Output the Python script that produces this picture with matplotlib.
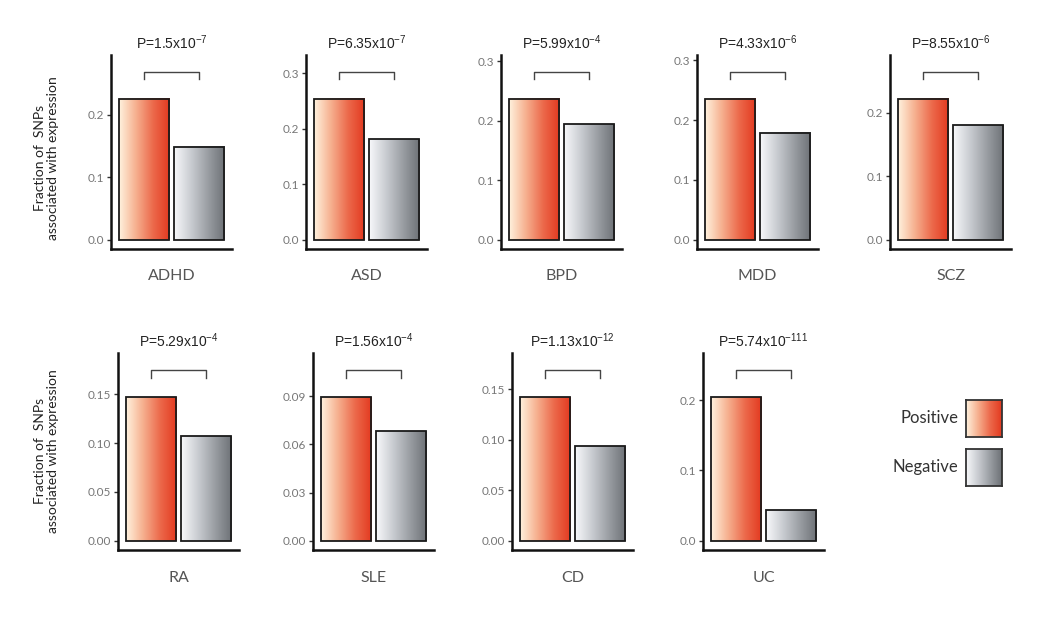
import matplotlib
matplotlib.use("Agg")
import matplotlib.pyplot as plt
import numpy as np
from matplotlib.colors import LinearSegmentedColormap

plt.rcParams['font.family'] = ['Lato', 'DejaVu Sans']
plt.rcParams['mathtext.fontset'] = 'custom'
plt.rcParams['mathtext.rm'] = 'Liberation Sans'
plt.rcParams['mathtext.it'] = 'Liberation Sans'
plt.rcParams['mathtext.default'] = 'regular'

diseases = ["ADHD", "ASD", "BPD", "MDD", "SCZ", "RA", "SLE", "CD", "UC"]
positive = [0.226, 0.254, 0.237, 0.236, 0.222, 0.147, 0.0894, 0.142, 0.204]
negative = [0.149, 0.181, 0.194, 0.179, 0.180, 0.107, 0.0685, 0.094, 0.043]
p_mantissa = ["1.5", "6.35", "5.99", "4.33", "8.55", "5.29", "1.56", "1.13", "5.74"]
p_exponent = [-7, -7, -4, -6, -6, -4, -4, -12, -111]
tick_step = [0.1, 0.1, 0.1, 0.1, 0.1, 0.05, 0.03, 0.05, 0.1]
tick_fmt = ["%.1f"] * 5 + ["%.2f", "%.2f", "%.2f", "%.1f"]
groups = ["Positive", "Negative"]

W, H = 1048, 618
fig = plt.figure(figsize=(W / 100, H / 100), dpi=100)

pos_cmap = LinearSegmentedColormap.from_list("pos", ["#fff2de", "#f6b08f", "#ec6a4c", "#e3391f"])
neg_cmap = LinearSegmentedColormap.from_list("neg", ["#f8f9fb", "#c9ccd1", "#9a9ea3", "#6d7176"])
grad = np.linspace(0, 1, 256).reshape(1, -1)

lefts = [111, 306, 501, 697, 890, 118, 313, 512, 703]
tops = [55] * 5 + [353] * 4
bottoms = [249] * 5 + [550] * 4
ax_w = 121


def px_rect(left, top, bottom, width):
    return [left / W, 1 - bottom / H, width / W, (bottom - top) / H]


for i, name in enumerate(diseases):
    ax = fig.add_axes(px_rect(lefts[i], tops[i], bottoms[i], ax_w))
    vals = [positive[i], negative[i]]
    bars = ax.bar([0, 1], vals, width=0.92, facecolor="none", edgecolor="#1a1a1a",
                  linewidth=1.3, zorder=3)
    for b, cm in zip(bars, [pos_cmap, neg_cmap]):
        x0, w, h = b.get_x(), b.get_width(), b.get_height()
        ax.imshow(grad, extent=[x0, x0 + w, 0, h], aspect="auto", cmap=cm,
                  zorder=2, interpolation="bicubic")
    B = max(vals) * 1.19
    tick_h = 0.045 * B
    ax.plot([0, 0, 1, 1], [B - tick_h, B, B, B - tick_h], color="#444444", lw=1.0,
            clip_on=False, zorder=3)
    ax.set_xlim(-0.61, 1.61)
    top = 1.1 * B
    ax.set_ylim(-0.055 * B, top)
    ax.text(0.5, B + 0.12 * B,
            "P=%sx10$^{%d}$" % (p_mantissa[i], p_exponent[i]),
            ha="center", va="bottom", fontsize=10, color="#222222",
            family="Liberation Sans", clip_on=False)
    step = tick_step[i]
    ticks = np.arange(0, top + 1e-9, step)
    ax.set_yticks(ticks)
    ax.set_yticklabels([tick_fmt[i] % t for t in ticks])
    ax.set_xticks([])
    for s in ["top", "right"]:
        ax.spines[s].set_visible(False)
    for s in ["left", "bottom"]:
        ax.spines[s].set_linewidth(1.8)
        ax.spines[s].set_color("#111111")
    ax.tick_params(axis="y", length=3, width=1, color="#333333", labelcolor="#777777",
                   labelsize=8.5, pad=2)
    ax.patch.set_alpha(0)
    ax.text(0.5, -0.14, name, transform=ax.transAxes, ha="center", va="center",
            fontsize=11.5, color="#555555")

ylab = "Fraction of  SNPs\nassociated with expression"
fig.text(47 / W, 1 - 158 / H, ylab, rotation=90, ha="center", va="center",
         fontsize=10, color="#222222", linespacing=1.1)
fig.text(47 / W, 1 - 451 / H, ylab, rotation=90, ha="center", va="center",
         fontsize=10, color="#222222", linespacing=1.1)

# legend
for j, (g, cm) in enumerate(zip(groups, [pos_cmap, neg_cmap])):
    top_px = 400 + j * 49
    lax = fig.add_axes(px_rect(966, top_px, top_px + 37, 36))
    lax.imshow(grad, extent=[0, 1, 0, 1], aspect="auto", cmap=cm, interpolation="bicubic")
    lax.set_xticks([])
    lax.set_yticks([])
    for s in lax.spines.values():
        s.set_linewidth(1.3)
        s.set_color("#333333")
    fig.text(958 / W, 1 - (top_px + 18) / H, g, ha="right", va="center",
             fontsize=12, color="#333333")

fig.savefig("out.png", dpi=100)
